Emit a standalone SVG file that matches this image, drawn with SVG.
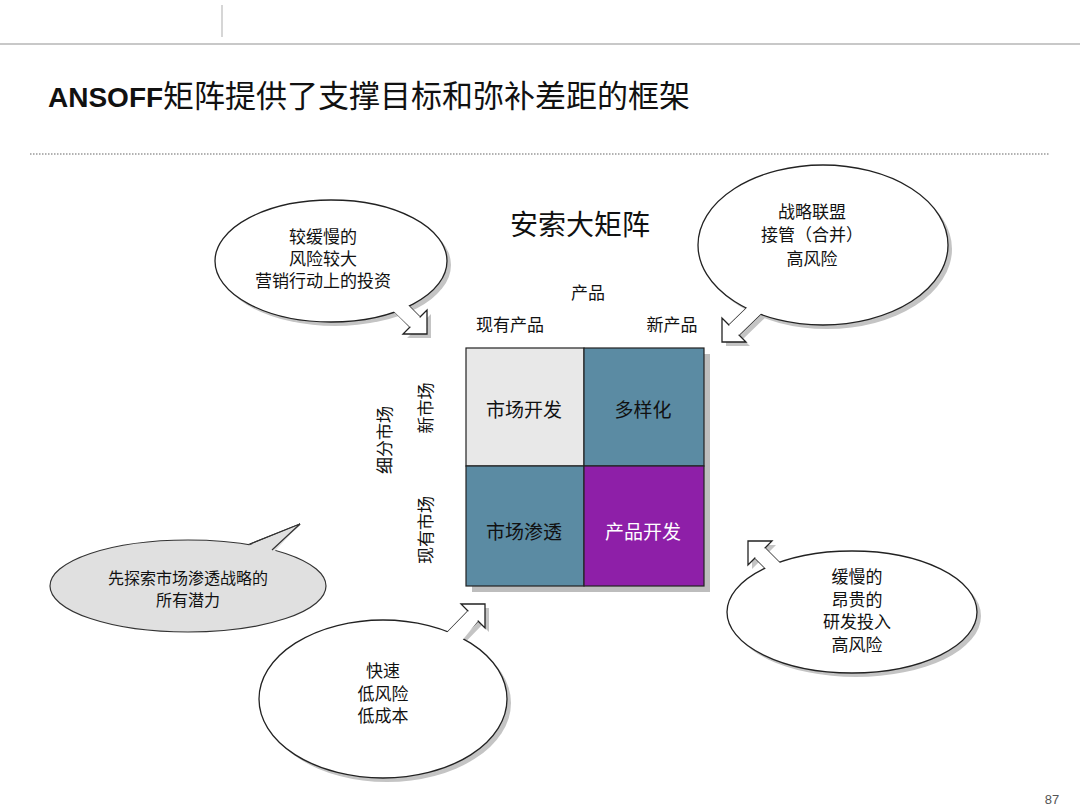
<svg xmlns="http://www.w3.org/2000/svg" width="1080" height="810" viewBox="0 0 1080 810">
<style>
text{font-family:"Noto Sans CJK SC","Liberation Serif",serif;fill:#111;text-anchor:middle}
.b{fill:#fff;stroke:#222;stroke-width:1.3}
.g{fill:#e0e0e0;stroke:#333;stroke-width:1.2}
.sh{fill:#c4c4c4;stroke:none}
.cv{fill:#fff;stroke:none}
.t{font-size:17px}
.m{font-size:19px}
</style>
<rect width="1080" height="810" fill="#fff"/>
<line x1="0" y1="44" x2="1080" y2="44" stroke="#c8c8c8" stroke-width="2"/>
<line x1="222" y1="5" x2="222" y2="37" stroke="#c8c8c8" stroke-width="1.5"/>
<text x="48" y="107" style="font-family:'Liberation Sans',sans-serif;font-weight:bold;font-size:28px;text-anchor:start">ANSOFF<tspan style="font-family:'Noto Sans CJK SC',sans-serif;font-weight:normal;font-size:31px">矩阵提供了支撑目标和弥补差距的框架</tspan></text>
<line x1="30" y1="154" x2="1050" y2="154" stroke="#999" stroke-width="1.5" stroke-dasharray="1.5,1.5"/>

<g id="matrix">
<rect x="472" y="354" width="238" height="238" fill="#bdbdbd"/>
<rect x="466" y="348" width="118" height="118" fill="#e8e8e8" stroke="#222" stroke-width="1.2"/>
<rect x="584" y="348" width="120" height="118" fill="#5b8ba3" stroke="#222" stroke-width="1.2"/>
<rect x="466" y="466" width="118" height="120" fill="#5b8ba3" stroke="#222" stroke-width="1.2"/>
<rect x="584" y="466" width="120" height="120" fill="#8e1fa8" stroke="#222" stroke-width="1.2"/>
<text class="m" x="524" y="417">市场开发</text>
<text class="m" x="643" y="417">多样化</text>
<text class="m" x="524" y="539">市场渗透</text>
<text class="m" x="643" y="539" style="fill:#fff">产品开发</text>
<text x="580" y="235" style="font-size:28px">安索大矩阵</text>
<text class="t" x="588" y="299">产品</text>
<text class="t" x="510" y="331">现有产品</text>
<text class="t" x="672" y="331">新产品</text>
<text class="t" transform="translate(391,440) rotate(-90)">细分市场</text>
<text class="t" transform="translate(432,408) rotate(-90)">新市场</text>
<text class="t" transform="translate(432,530) rotate(-90)">现有市场</text>
</g>

<g id="bubble1">
<g transform="translate(4,4)" class="sh"><polygon points="387,304 410,327 403,334 427,334 427,310 420,317 397,294"/><ellipse cx="331" cy="261" rx="116" ry="61"/></g>
<polygon class="b" points="387,304 410,327 403,334 427,334 427,310 420,317 397,294"/>
<ellipse class="b" cx="331" cy="261" rx="116" ry="61"/>
<polygon class="cv" points="384,302 410,327 420,317 394,291"/>
<text class="t" x="323" y="243">较缓慢的</text>
<text class="t" x="323" y="265">风险较大</text>
<text class="t" x="323" y="287">营销行动上的投资</text>
</g>

<g id="bubble2">
<g transform="translate(4,4)" class="sh"><polygon points="765,310 739,335 746,342 722,342 722,318 729,325 755,300"/><ellipse cx="823" cy="245" rx="125" ry="80"/></g>
<polygon class="b" points="765,310 739,335 746,342 722,342 722,318 729,325 755,300"/>
<ellipse class="b" cx="823" cy="245" rx="125" ry="80"/>
<polygon class="cv" points="768,307 739,335 729,325 758,297"/>
<text class="t" x="812" y="218">战略联盟</text>
<text class="t" x="812" y="241">接管（合并）</text>
<text class="t" x="812" y="265">高风险</text>
</g>

<g id="bubble3">
<path class="g" d="M250,544 L300,524 L272,550 Z"/>
<ellipse class="g" cx="188" cy="586" rx="138" ry="46"/>
<path d="M248,546 L300,524 L274,552 Z" fill="#e0e0e0"/>
<path d="M250,544 L300,524 L272,550" fill="none" stroke="#333" stroke-width="1.2"/>
<text x="188" y="584" style="font-size:16px">先探索市场渗透战略的</text>
<text x="188" y="606" style="font-size:16px">所有潜力</text>
</g>

<g id="bubble4">
<g transform="translate(4,4)" class="sh"><polygon points="445,655 478,621 485,628 485,604 461,604 468,611 435,645"/><ellipse cx="383" cy="699" rx="124" ry="79"/></g>
<polygon class="b" points="445,655 478,621 485,628 485,604 461,604 468,611 435,645"/>
<ellipse class="b" cx="383" cy="699" rx="124" ry="79"/>
<polygon class="cv" points="448,658 478,621 468,611 432,648"/>
<text class="t" x="383" y="677">快速</text>
<text class="t" x="383" y="700">低风险</text>
<text class="t" x="383" y="722">低成本</text>
</g>

<g id="bubble5">
<g transform="translate(4,4)" class="sh"><polygon points="795,578 765,548 772,541 748,541 748,565 755,558 785,588"/><ellipse cx="852" cy="612" rx="125" ry="61"/></g>
<polygon class="b" points="795,578 765,548 772,541 748,541 748,565 755,558 785,588"/>
<ellipse class="b" cx="852" cy="612" rx="125" ry="61"/>
<polygon class="cv" points="798,581 765,548 755,558 788,591"/>
<text class="t" x="857" y="583">缓慢的</text>
<text class="t" x="857" y="606">昂贵的</text>
<text class="t" x="857" y="628">研发投入</text>
<text class="t" x="857" y="651">高风险</text>
</g>

<text x="1052" y="804" style="font-family:'Liberation Sans',sans-serif;font-size:13px;fill:#555">87</text>
</svg>
